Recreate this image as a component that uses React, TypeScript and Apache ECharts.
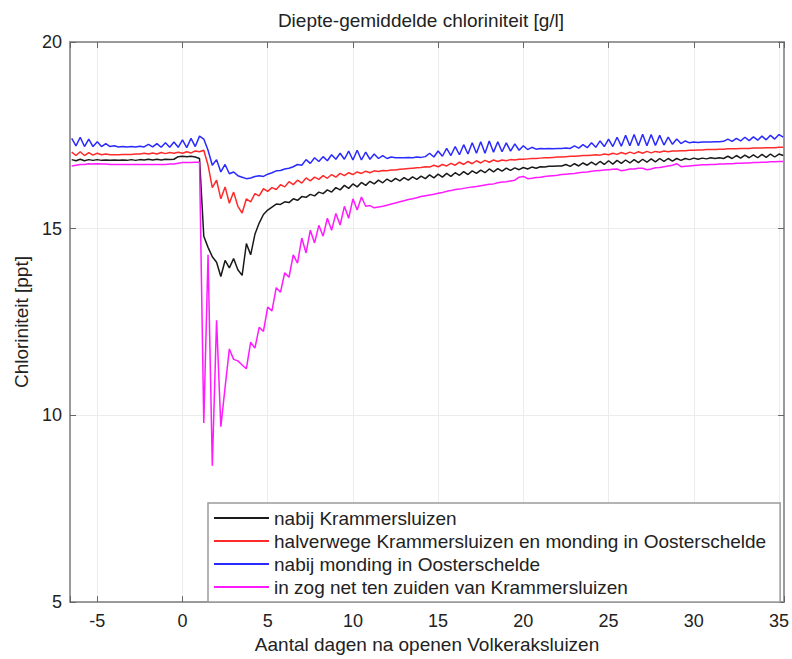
import React, { useEffect, useRef } from "react";
import * as echarts from "echarts";

// Sampling grid of the model output (days after opening Volkeraksluizen)
const START_DAY = -6.5;
const STEP_DAY = 0.25;

const seriesNames = [
  "nabij Krammersluizen",
  "halverwege Krammersluizen en monding in Oosterschelde",
  "nabij monding in Oosterschelde",
  "in zog net ten zuiden van Krammersluizen",
];

const seriesColors = ["#1a1a1a", "#ff2a2a", "#2a2aff", "#ff1aff"];

const krammer = [
  16.85, 16.82, 16.86, 16.82, 16.85, 16.83, 16.85, 16.83,
  16.84, 16.83, 16.84, 16.83, 16.84, 16.83, 16.85, 16.83,
  16.85, 16.84, 16.86, 16.84, 16.86, 16.84, 16.86, 16.85,
  16.86, 16.93, 16.94, 16.93, 16.94, 16.92, 16.88, 14.8,
  14.5, 14.25, 14.1, 13.72, 14.15, 13.95, 14.2, 13.9,
  13.75, 14.6, 14.3, 14.85, 15.15, 15.38, 15.5, 15.58,
  15.66, 15.65, 15.72, 15.7, 15.8, 15.76, 15.86, 15.84,
  15.92, 15.88, 15.98, 15.94, 16.04, 15.98, 16.1, 16.04,
  16.16, 16.08, 16.2, 16.12, 16.24, 16.16, 16.27, 16.2,
  16.3, 16.23, 16.33, 16.26, 16.35, 16.28, 16.37, 16.3,
  16.39, 16.32, 16.41, 16.34, 16.44, 16.36, 16.46, 16.38,
  16.48, 16.4, 16.5, 16.43, 16.53, 16.45, 16.55, 16.48,
  16.57, 16.5, 16.6, 16.52, 16.61, 16.54, 16.62, 16.56,
  16.63, 16.58, 16.64, 16.6, 16.65, 16.62, 16.66, 16.65,
  16.67, 16.67, 16.68, 16.68, 16.72, 16.67, 16.74, 16.68,
  16.76, 16.7, 16.78, 16.71, 16.8, 16.72, 16.82, 16.73,
  16.83, 16.75, 16.84, 16.76, 16.85, 16.77, 16.86, 16.78,
  16.87, 16.79, 16.88, 16.8, 16.88, 16.81, 16.88, 16.83,
  16.88, 16.85, 16.89, 16.86, 16.89, 16.87, 16.9, 16.88,
  16.9, 16.88, 16.94, 16.88, 16.96, 16.89, 16.97, 16.9,
  16.98, 16.9, 16.99, 16.91, 17.0, 16.92, 17.0, 16.96,
];

const halverwege = [
  17.05, 16.96, 17.06, 16.96, 17.04, 16.97, 17.02, 16.98,
  17.0, 16.98, 16.98, 16.98, 16.99, 16.99, 16.99, 17.0,
  17.0, 17.02, 17.0, 17.03, 17.0, 17.04, 17.01, 17.04,
  17.02, 17.05, 17.02, 17.06, 17.03, 17.08, 17.06, 17.1,
  16.7, 16.1, 16.3, 15.8, 16.12, 15.68, 15.98, 15.6,
  15.42, 15.8, 15.72, 15.94, 15.88, 16.07, 16.0, 16.1,
  16.05, 16.18, 16.12, 16.26, 16.18, 16.3, 16.22, 16.36,
  16.28, 16.38, 16.32, 16.42, 16.35, 16.45, 16.38, 16.48,
  16.42, 16.5, 16.45, 16.52, 16.48, 16.54, 16.5, 16.55,
  16.53, 16.56, 16.55, 16.57, 16.57, 16.59, 16.6, 16.61,
  16.62, 16.63, 16.64, 16.66, 16.65, 16.7, 16.66, 16.72,
  16.68, 16.75, 16.7, 16.78, 16.72, 16.8, 16.74, 16.82,
  16.76, 16.83, 16.78, 16.84, 16.8, 16.84, 16.82, 16.85,
  16.84, 16.86, 16.86, 16.87, 16.88, 16.88, 16.89, 16.9,
  16.9, 16.91, 16.92, 16.92, 16.93, 16.94, 16.94, 16.95,
  16.96, 16.96, 16.97, 16.98, 16.97, 17.0, 16.98, 17.02,
  16.99, 17.04, 17.0, 17.05, 17.01, 17.06, 17.02, 17.07,
  17.03, 17.07, 17.05, 17.08, 17.06, 17.08, 17.08, 17.09,
  17.09, 17.1, 17.1, 17.11, 17.11, 17.12, 17.12, 17.12,
  17.13, 17.13, 17.14, 17.14, 17.14, 17.15, 17.15, 17.15,
  17.16, 17.16, 17.16, 17.17, 17.17, 17.17, 17.18, 17.18,
];

const monding = [
  17.42, 17.22, 17.45, 17.2, 17.4, 17.2, 17.33, 17.2,
  17.28, 17.2, 17.22, 17.19, 17.2, 17.19, 17.2, 17.19,
  17.21, 17.19, 17.26, 17.19, 17.28, 17.18, 17.3, 17.18,
  17.32, 17.18, 17.38, 17.17, 17.42, 17.2, 17.48, 17.4,
  17.1, 16.7, 16.85, 16.52, 16.72, 16.47, 16.52, 16.42,
  16.38, 16.34, 16.36, 16.4, 16.42, 16.4, 16.46, 16.5,
  16.55, 16.56, 16.6, 16.62, 16.66, 16.72, 16.7, 16.85,
  16.75, 16.9, 16.8, 16.93, 16.82, 16.98, 16.86, 17.02,
  16.86, 17.08, 16.84, 17.1, 16.84, 17.05, 16.86, 17.0,
  16.88, 16.96, 16.88, 16.92, 16.9, 16.9, 16.9, 16.91,
  16.9, 16.92, 16.91, 16.93, 17.02, 16.92, 17.08, 16.94,
  17.15, 16.96, 17.2, 16.98, 17.25, 17.0, 17.3, 17.02,
  17.33, 17.02, 17.35, 17.05, 17.33, 17.06, 17.3, 17.08,
  17.27, 17.1, 17.22, 17.12, 17.18, 17.13, 17.15, 17.14,
  17.15, 17.14, 17.15, 17.15, 17.16, 17.15, 17.22, 17.16,
  17.25, 17.17, 17.3, 17.18, 17.35, 17.2, 17.4, 17.2,
  17.45, 17.21, 17.5, 17.22, 17.52, 17.22, 17.53, 17.22,
  17.52, 17.23, 17.5, 17.24, 17.45, 17.26, 17.4, 17.28,
  17.35, 17.3, 17.32, 17.31, 17.32, 17.32, 17.32, 17.33,
  17.33, 17.34, 17.4, 17.34, 17.42, 17.35, 17.45, 17.36,
  17.46, 17.37, 17.48, 17.38, 17.5, 17.4, 17.52, 17.45,
];

const zog = [
  16.68, 16.7, 16.72, 16.72, 16.74, 16.73, 16.74, 16.73,
  16.73, 16.72, 16.72, 16.72, 16.72, 16.72, 16.72, 16.72,
  16.72, 16.72, 16.72, 16.72, 16.72, 16.72, 16.72, 16.73,
  16.73, 16.75, 16.77, 16.77, 16.77, 16.78, 16.78, 9.8,
  14.3, 8.65, 12.55, 9.7, 10.75, 11.78, 11.5, 11.46,
  11.35, 11.25, 11.96, 11.8, 12.36, 12.25, 12.9, 12.8,
  13.42, 13.3, 13.82, 13.7, 14.3, 14.08, 14.75, 14.35,
  14.96, 14.62, 15.09, 14.8, 15.28, 14.96, 15.41, 15.1,
  15.6, 15.28, 15.8, 15.5, 15.85, 15.6, 15.62, 15.56,
  15.58, 15.6, 15.63, 15.66, 15.69, 15.72, 15.75, 15.78,
  15.8, 15.83, 15.86, 15.88, 15.9, 15.92, 15.95, 15.97,
  16.0, 16.02, 16.05, 16.06, 16.08, 16.1, 16.12, 16.13,
  16.15, 16.17, 16.19, 16.2, 16.23, 16.25, 16.26, 16.28,
  16.3, 16.38, 16.4, 16.34, 16.35, 16.37, 16.38, 16.4,
  16.41, 16.42, 16.43, 16.45, 16.46, 16.47, 16.48, 16.5,
  16.51, 16.52, 16.54, 16.55, 16.56, 16.57, 16.58, 16.59,
  16.6, 16.55, 16.57, 16.6, 16.6, 16.62, 16.62, 16.58,
  16.6, 16.63, 16.64, 16.66, 16.68, 16.7, 16.74, 16.66,
  16.67, 16.68, 16.69, 16.7, 16.71, 16.71, 16.72, 16.72,
  16.73, 16.73, 16.74, 16.74, 16.75, 16.75, 16.76, 16.76,
  16.77, 16.77, 16.78, 16.78, 16.79, 16.79, 16.8, 16.8,
];

const xTickValues = [-5, 0, 5, 10, 15, 20, 25, 30, 35];
const yTickValues = [5, 10, 15, 20];

const titleText = "Diepte-gemiddelde chloriniteit [g/l]";
const xAxisName = "Aantal dagen na openen Volkeraksluizen";
const yAxisName = "Chloriniteit [ppt]";

const FONT = '"Liberation Sans", Arial, Helvetica, sans-serif';
const TEXT_COLOR = "#222";
const FRAME_COLOR = "#9a9a9a";

export default function App() {
  const ref = useRef<HTMLDivElement>(null);

  useEffect(() => {
    if (!ref.current) return;
    const chart = echarts.init(ref.current, undefined, { renderer: "svg" });
    const allValues = [krammer, halverwege, monding, zog];
    const days = krammer.map((_, i) => START_DAY + i * STEP_DAY);

    const frameAxisCommon = {
      type: "value" as const,
      axisLine: { show: true, onZero: false, lineStyle: { color: FRAME_COLOR, width: 2 } },
      axisTick: { show: true, inside: true, length: 6, lineStyle: { color: "#666", width: 1 } },
    };

    const xLabelFmt = (v: number) => (xTickValues.includes(Math.round(v * 1000) / 1000) ? String(v) : "");

    chart.setOption({
      animation: false,
      backgroundColor: "#fff",
      grid: { left: 70, right: 6, top: 42, bottom: 52, containLabel: false },
      graphic: [
        {
          type: "text",
          x: 421,
          y: 20,
          style: {
            text: titleText,
            fill: TEXT_COLOR,
            fontSize: 19,
            fontFamily: FONT,
            align: "center",
            verticalAlign: "middle",
          },
        },
      ],
      xAxis: [
        {
          ...frameAxisCommon,
          position: "bottom",
          min: -6.6,
          max: 35.3,
          splitNumber: 8,
          axisLabel: {
            show: true,
            formatter: xLabelFmt,
            color: TEXT_COLOR,
            fontSize: 18,
            fontFamily: FONT,
            margin: 10,
          },
          splitLine: { show: true, lineStyle: { color: "#ececec", width: 1 } },
          name: xAxisName,
          nameLocation: "middle",
          nameGap: 31,
          nameTextStyle: { color: TEXT_COLOR, fontSize: 19, fontFamily: FONT },
        },
        {
          ...frameAxisCommon,
          position: "top",
          min: -6.6,
          max: 35.3,
          splitNumber: 8,
          axisLabel: { show: false },
          splitLine: { show: false },
        },
      ],
      yAxis: [
        {
          ...frameAxisCommon,
          position: "left",
          min: yTickValues[0],
          max: yTickValues[yTickValues.length - 1],
          interval: 5,
          axisLabel: {
            color: TEXT_COLOR,
            fontSize: 18,
            fontFamily: FONT,
            margin: 8,
          },
          splitLine: { show: true, lineStyle: { color: "#ececec", width: 1 } },
          name: yAxisName,
          nameLocation: "middle",
          nameGap: 34,
          nameRotate: 90,
          nameTextStyle: { color: TEXT_COLOR, fontSize: 19, fontFamily: FONT },
        },
        {
          ...frameAxisCommon,
          position: "right",
          min: yTickValues[0],
          max: yTickValues[yTickValues.length - 1],
          interval: 5,
          axisLabel: { show: false },
          splitLine: { show: false },
        },
      ],
      legend: {
        show: true,
        orient: "vertical",
        left: 208,
        top: 503,
        padding: [5, 14, 5, 6],
        itemGap: 3,
        itemWidth: 55,
        itemHeight: 2,
        icon: "rect",
        backgroundColor: "#fff",
        borderColor: "#9a9a9a",
        borderWidth: 1.5,
        textStyle: { color: TEXT_COLOR, fontSize: 19, lineHeight: 20, fontFamily: FONT },
        data: seriesNames,
      },
      series: seriesNames.map((name, k) => ({
        name,
        type: "line",
        xAxisIndex: 0,
        yAxisIndex: 0,
        symbol: "none",
        showSymbol: false,
        lineStyle: { color: seriesColors[k], width: 1.5 },
        itemStyle: { color: seriesColors[k] },
        data: days.map((d, i) => [d, allValues[k][i]]),
        z: 2 + k,
      })),
    });

    return () => chart.dispose();
  }, []);

  return (
    <div
      ref={ref}
      style={{ position: "fixed", left: 0, top: 0, width: 792, height: 659, background: "#fff" }}
    />
  );
}
